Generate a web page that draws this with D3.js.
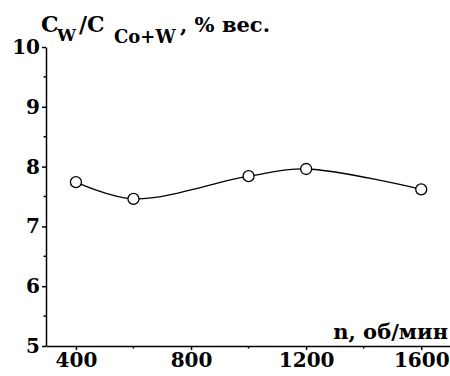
<!DOCTYPE html>
<html>
<head>
<meta charset="utf-8">
<script src="https://cdn.jsdelivr.net/npm/d3@7"></script>
<style>
  body { margin: 0; background: #fff; }
  text { font-family: "DejaVu Serif", serif; font-weight: bold; fill: #000; }
</style>
</head>
<body>
<div id="viz"></div>
<script>
var speeds = [400, 600, 1000, 1200, 1600];
var wContent = [7.74, 7.46, 7.84, 7.96, 7.62];
var xTicks = [400, 800, 1200, 1600];
var xMinorTicks = [600, 1000, 1400];
var yTicks = [5, 6, 7, 8, 9, 10];
var yMinorTicks = [5.5, 6.5, 7.5, 8.5, 9.5];

var width = 450,
    height = 376,
    margin = {top: 47, right: 0, bottom: 30, left: 46};

var svg = d3.select('#viz')
  .append("svg")
  .attr("width", width)
  .attr("height", height);

var xScale = d3.scaleLinear().domain([296, 1700]).range([margin.left, width - margin.right]);
var yScale = d3.scaleLinear().domain([5, 10]).range([height - margin.bottom, margin.top]);

var xAxis = d3.axisBottom(xScale).tickValues(xTicks).tickFormat(d3.format("d"))
  .tickSize(4).tickSizeOuter(0).tickPadding(3);
var yAxis = d3.axisLeft(yScale).tickValues(yTicks).tickFormat(d3.format("d"))
  .tickSize(4).tickSizeOuter(0).tickPadding(2);

// X Axis
var gx = svg.append("g")
  .attr("transform", `translate(0,${yScale(5)})`)
  .call(xAxis);
gx.selectAll(".tick line").attr("stroke-width", 1.5);
gx.selectAll(".tick text").style("font-size", "20px").style("font-family", "DejaVu Serif").style("font-weight", "bold");
gx.select(".domain").attr("stroke-width", 1.5);
gx.selectAll(".minor")
  .data(xMinorTicks)
  .enter().append("line")
  .attr("x1", d => xScale(d)).attr("x2", d => xScale(d))
  .attr("y1", 0).attr("y2", 2.5)
  .attr("stroke", "#000").attr("stroke-width", 1.5);

// Y Axis
var gy = svg.append("g")
  .attr("transform", `translate(${margin.left},0)`)
  .call(yAxis);
gy.selectAll(".tick line").attr("stroke-width", 1.5);
gy.selectAll(".tick text").style("font-size", "20px").style("font-family", "DejaVu Serif").style("font-weight", "bold");
gy.select(".domain").attr("stroke-width", 1.5);
gy.selectAll(".minor")
  .data(yMinorTicks)
  .enter().append("line")
  .attr("y1", d => yScale(d)).attr("y2", d => yScale(d))
  .attr("x1", 0).attr("x2", -2.5)
  .attr("stroke", "#000").attr("stroke-width", 1.5);

// curve
var pts = speeds.map((s, i) => [s, wContent[i]]);
var line = d3.line()
  .x(d => xScale(d[0]))
  .y(d => yScale(d[1]))
  .curve(d3.curveCatmullRom.alpha(0.5));

svg.append("path")
  .datum(pts)
  .attr("d", line)
  .attr("fill", "none")
  .attr("stroke", "#000")
  .attr("stroke-width", 1.3);

svg.selectAll(".pt")
  .data(pts)
  .enter().append("circle")
  .attr("class", "pt")
  .attr("cx", d => xScale(d[0]))
  .attr("cy", d => yScale(d[1]))
  .attr("r", 5.5)
  .attr("fill", "#fff")
  .attr("stroke", "#000")
  .attr("stroke-width", 1.3);

// axis titles
var title = svg.append("text").attr("y", 32).style("font-size", "22px");
title.append("tspan").attr("x", 41).text("C");
title.append("tspan").attr("x", 57).attr("dy", 9).style("font-size", "17px").text("W");
title.append("tspan").attr("x", 79).attr("dy", -9).text("/C");
title.append("tspan").attr("x", 114).attr("dy", 11).style("font-size", "18px").text("Co+W");
title.append("tspan").attr("x", 180).attr("dy", -11).style("font-size", "21px").text(", % вес.");

svg.append("text")
  .attr("x", 448)
  .attr("y", 339)
  .attr("text-anchor", "end")
  .style("font-size", "21px")
  .text("n, об/мин");
</script>
</body>
</html>
